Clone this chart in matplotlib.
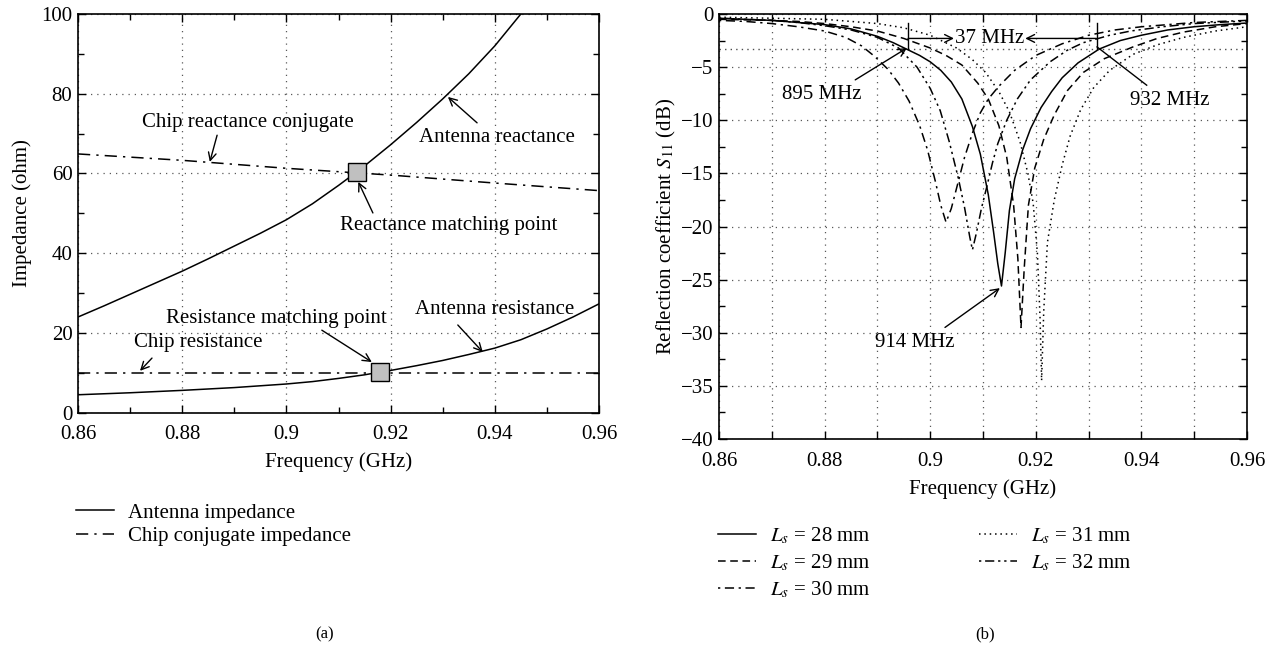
import matplotlib
matplotlib.use("Agg")
import matplotlib.pyplot as plt
from matplotlib.ticker import MultipleLocator, FuncFormatter
from matplotlib.lines import Line2D

plt.rcParams['font.family'] = ['Liberation Serif', 'DejaVu Serif']
plt.rcParams['mathtext.fontset'] = 'stix'
plt.rcParams['axes.linewidth'] = 1.2

# ---------------- data (a) ----------------
react_f = [0.86, 0.865, 0.87, 0.875, 0.88, 0.885, 0.89, 0.895, 0.90, 0.905, 0.91,
           0.9136, 0.915, 0.92, 0.925, 0.93, 0.935, 0.94, 0.945]
react_v = [24.0, 26.8, 29.7, 32.6, 35.5, 38.6, 41.8, 45.0, 48.4, 52.4, 57.0,
           60.5, 61.9, 67.2, 72.8, 78.7, 85.0, 92.0, 100.0]

res_f = [0.86, 0.87, 0.88, 0.89, 0.90, 0.905, 0.91, 0.915, 0.918, 0.92, 0.925, 0.93,
         0.935, 0.94, 0.945, 0.95, 0.955, 0.96]
res_v = [4.5, 5.0, 5.6, 6.3, 7.2, 7.8, 8.6, 9.5, 10.2, 10.6, 11.8, 13.1,
         14.6, 16.2, 18.3, 21.0, 24.0, 27.3]

chipx_f = [0.86, 0.88, 0.90, 0.92, 0.94, 0.96]
chipx_v = [64.9, 63.3, 61.3, 59.6, 57.6, 55.7]

chipr_f = [0.86, 0.96]
chipr_v = [10.0, 10.0]

match_f = [0.9136, 0.918]
match_v = [60.4, 10.2]

# ---------------- data (b) ----------------
s28_f = [0.86, 0.865, 0.87, 0.875, 0.88, 0.885, 0.89, 0.893, 0.8955, 0.898, 0.90, 0.902,
         0.904, 0.906, 0.908, 0.9095, 0.911, 0.912, 0.9128, 0.9135, 0.9142, 0.915, 0.916,
         0.9175, 0.919, 0.921, 0.923, 0.925, 0.928, 0.932, 0.936, 0.94, 0.945, 0.95,
         0.955, 0.96]
s28_v = [-0.4, -0.5, -0.6, -0.8, -1.0, -1.4, -2.1, -2.7, -3.3, -3.9, -4.5, -5.3,
         -6.4, -8.0, -10.6, -13.2, -17.0, -20.5, -23.5, -25.6, -22.5, -18.5, -15.5,
         -12.8, -10.8, -8.8, -7.3, -6.0, -4.6, -3.3, -2.5, -2.0, -1.5, -1.2,
         -1.0, -0.85]

s29_f = [0.86, 0.87, 0.875, 0.88, 0.885, 0.89, 0.895, 0.90, 0.903, 0.906, 0.909, 0.911,
         0.913, 0.9145, 0.9158, 0.9166, 0.9172, 0.9178, 0.9186, 0.9198, 0.9215, 0.9235,
         0.926, 0.929, 0.933, 0.9384, 0.943, 0.948, 0.954, 0.96]
s29_v = [-0.5, -0.6, -0.7, -0.9, -1.2, -1.6, -2.3, -3.2, -3.9, -4.8, -6.5, -8.0,
         -10.5, -13.5, -18.0, -23.0, -29.5, -24.0, -18.0, -14.5, -11.8, -9.5,
         -7.2, -5.5, -4.2, -3.1, -2.3, -1.7, -1.2, -0.9]

s30_f = [0.86, 0.865, 0.87, 0.875, 0.88, 0.884, 0.887, 0.8895, 0.892, 0.894, 0.896,
         0.898, 0.8995, 0.901, 0.902, 0.903, 0.904, 0.9052, 0.9065, 0.908, 0.9095,
         0.911, 0.913, 0.916, 0.92, 0.925, 0.93, 0.935, 0.94, 0.95, 0.96]
s30_v = [-0.6, -0.7, -0.9, -1.2, -1.6, -2.2, -3.0, -4.0, -5.2, -6.5, -8.2,
         -10.5, -12.8, -15.8, -18.0, -19.6, -18.3, -16.0, -13.5, -11.2, -9.3,
         -8.0, -6.8, -5.3, -3.9, -2.8, -2.0, -1.5, -1.2, -0.8, -0.6]

s31_f = [0.86, 0.87, 0.88, 0.885, 0.89, 0.895, 0.90, 0.905, 0.908, 0.9105, 0.913,
         0.915, 0.917, 0.9185, 0.9195, 0.9203, 0.9208, 0.9211, 0.9215, 0.9222, 0.9235,
         0.925, 0.9265, 0.9285, 0.931, 0.934, 0.9384, 0.943, 0.948, 0.954, 0.96]
s31_v = [-0.3, -0.4, -0.5, -0.7, -0.9, -1.3, -2.0, -3.2, -4.3, -5.5, -7.3,
         -9.2, -12.0, -15.0, -17.8, -22.5, -28.5, -34.5, -28.0, -21.5, -17.5,
         -14.2, -11.5, -9.0, -6.9, -5.3, -3.8, -2.9, -2.2, -1.6, -1.2]

s32_f = [0.86, 0.865, 0.87, 0.875, 0.88, 0.885, 0.89, 0.894, 0.8975, 0.900, 0.9019,
         0.9036, 0.9053, 0.9065, 0.9075, 0.908, 0.9088, 0.9097, 0.9107, 0.9118, 0.9128,
         0.9145, 0.9165, 0.919, 0.9227, 0.926, 0.929, 0.934, 0.938, 0.944, 0.95, 0.96]
s32_v = [-0.4, -0.5, -0.6, -0.8, -1.1, -1.5, -2.2, -3.2, -5.0, -7.0, -9.1,
         -12.0, -15.4, -18.2, -21.0, -22.2, -20.5, -18.3, -16.3, -14.0, -12.2,
         -10.0, -8.0, -6.2, -4.5, -3.4, -2.7, -2.0, -1.6, -1.2, -0.9, -0.65]

series_labels = [r'$L_s$ = 28 mm', r'$L_s$ = 29 mm', r'$L_s$ = 30 mm',
                 r'$L_s$ = 31 mm', r'$L_s$ = 32 mm']

# ---------------- figure ----------------
fig = plt.figure(figsize=(12.75, 6.53), dpi=100)
W, H = 1275, 653

def axrect(x0, x1, ytop, ybot):
    return [x0 / W, 1 - ybot / H, (x1 - x0) / W, (ybot - ytop) / H]

axa = fig.add_axes(axrect(78, 599, 14, 412.7))
axb = fig.add_axes(axrect(719, 1247, 14, 439))

FS = 15
gridkw = dict(color='0.35', linestyle=(0, (1, 4)), linewidth=0.9)
xfmt = FuncFormatter(lambda v, p: ('%g' % round(v, 3)))

def style_axes(ax):
    ax.tick_params(which='both', direction='in', top=True, right=True, labelsize=FS,
                   width=1.0, color='black')
    ax.tick_params(which='major', length=6)
    ax.tick_params(which='minor', length=4)
    ax.tick_params(axis='x', which='both', pad=9)
    ax.tick_params(axis='y', which='both', pad=4)
    ax.xaxis.set_major_formatter(xfmt)

# ----- panel (a) -----
lw = 1.1
dashdot = (0, (8, 4, 1.5, 4))
axa.plot(react_f, react_v, color='black', lw=lw)
axa.plot(res_f, res_v, color='black', lw=lw)
axa.plot(chipx_f, chipx_v, color='black', lw=lw, linestyle=dashdot)
axa.plot(chipr_f, chipr_v, color='black', lw=lw, linestyle=dashdot)
axa.plot(match_f, match_v, linestyle='none', marker='s', markersize=13,
         markerfacecolor='#c0c0c0', markeredgecolor='black', markeredgewidth=1.0, zorder=5)
axa.set_xlim(0.86, 0.96)
axa.set_ylim(0, 100)
axa.xaxis.set_major_locator(MultipleLocator(0.02))
axa.xaxis.set_minor_locator(MultipleLocator(0.01))
axa.yaxis.set_major_locator(MultipleLocator(20))
axa.yaxis.set_minor_locator(MultipleLocator(10))
axa.grid(True, which='major', **gridkw)
style_axes(axa)
axa.set_xlabel('Frequency (GHz)', fontsize=FS, labelpad=6)
axa.set_ylabel('Impedance (ohm)', fontsize=FS, labelpad=7)

arrow = dict(arrowstyle='->', color='black', lw=1.0, shrinkA=0, shrinkB=0,
             mutation_scale=14)
axa.text(0.9405, 68.9, 'Antenna reactance', fontsize=FS, ha='center', va='center')
axa.annotate('', xy=(0.931, 79.2), xytext=(0.9366, 72.7), arrowprops=arrow)
axa.text(0.8926, 72.9, 'Chip reactance conjugate', fontsize=FS, ha='center', va='center')
axa.annotate('', xy=(0.8853, 62.9), xytext=(0.8867, 69.6), arrowprops=arrow)
axa.text(0.9312, 47.0, 'Reactance matching point', fontsize=FS, ha='center', va='center')
axa.annotate('', xy=(0.9138, 57.9), xytext=(0.9166, 50.1), arrowprops=arrow)
axa.text(0.898, 23.7, 'Resistance matching point', fontsize=FS, ha='center', va='center')
axa.annotate('', xy=(0.9164, 12.7), xytext=(0.9068, 20.7), arrowprops=arrow)
axa.text(0.940, 26.0, 'Antenna resistance', fontsize=FS, ha='center', va='center')
axa.annotate('', xy=(0.9377, 15.2), xytext=(0.9329, 22.0), arrowprops=arrow)
axa.text(0.883, 17.5, 'Chip resistance', fontsize=FS, ha='center', va='center')
axa.annotate('', xy=(0.8719, 10.5), xytext=(0.8742, 13.7), arrowprops=arrow)

leg_a = [Line2D([], [], color='black', lw=lw),
         Line2D([], [], color='black', lw=lw, linestyle=dashdot)]
fig.legend(leg_a, ['Antenna impedance', 'Chip conjugate impedance'],
           loc='upper left', bbox_to_anchor=(76 / W, 1 - 503 / H), frameon=False,
           fontsize=FS, handlelength=1.8, handletextpad=0.7, labelspacing=0.2,
           borderaxespad=0, borderpad=0)

# ----- panel (b) -----
styles = ['-', (0, (5, 3)), (0, (1.5, 3, 6, 3)), (0, (1, 2.5)),
          (0, (1.5, 2.5, 6, 2.5, 1.5, 2.5))]
curves = [(s28_f, s28_v), (s29_f, s29_v), (s30_f, s30_v), (s31_f, s31_v), (s32_f, s32_v)]
handles = []
for (f, v), ls, lab in zip(curves, styles, series_labels):
    h, = axb.plot(f, v, color='black', lw=lw, linestyle=ls, label=lab)
    handles.append(h)
axb.axhline(-3.3, color='0.3', linestyle=(0, (1, 3)), lw=1.0)
axb.set_xlim(0.86, 0.96)
axb.set_ylim(-40, 0)
axb.xaxis.set_major_locator(MultipleLocator(0.02))
axb.xaxis.set_minor_locator(MultipleLocator(0.01))
axb.yaxis.set_major_locator(MultipleLocator(5))
axb.yaxis.set_minor_locator(MultipleLocator(2.5))
axb.grid(True, which='major', **gridkw)
axb.grid(True, which='minor', axis='x', **gridkw)
style_axes(axb)
axb.tick_params(which='minor', axis='x', length=6)
axb.set_xlabel('Frequency (GHz)', fontsize=FS, labelpad=6)
axb.set_ylabel(r'Reflection coefficient $S_{11}$ (dB)', fontsize=FS, labelpad=2)

# bandwidth markers
axb.plot([0.8958, 0.8958], [-0.85, -3.3], color='black', lw=1.0)
axb.plot([0.9315, 0.9315], [-0.85, -3.3], color='black', lw=1.0)
axb.annotate('', xy=(0.9045, -2.3), xytext=(0.8958, -2.3), arrowprops=arrow)
axb.annotate('', xy=(0.9180, -2.3), xytext=(0.9315, -2.3), arrowprops=arrow)
axb.text(0.9112, -2.3, '37 MHz', fontsize=FS, ha='center', va='center')
axb.annotate('', xy=(0.8956, -3.2), xytext=(0.8858, -6.2), arrowprops=arrow)
axb.text(0.8795, -7.6, '895 MHz', fontsize=FS, ha='center', va='center')
axb.plot([0.9316, 0.941], [-3.1, -6.7], color='black', lw=1.0)
axb.text(0.9454, -8.1, '932 MHz', fontsize=FS, ha='center', va='center')
axb.annotate('', xy=(0.9132, -25.8), xytext=(0.9028, -29.5), arrowprops=arrow)
axb.text(0.897, -30.9, '914 MHz', fontsize=FS, ha='center', va='center')

fig.legend(handles, series_labels, loc='upper left', ncol=2,
           bbox_to_anchor=(718 / W, 1 - 526 / H), frameon=False, fontsize=FS,
           handlelength=1.8, handletextpad=0.7, labelspacing=0.3, columnspacing=5.2,
           borderaxespad=0, borderpad=0)

fig.text(325 / W, 1 - 634 / H, '(a)', fontsize=12, ha='center', va='center')
fig.text(985 / W, 1 - 634 / H, '(b)', fontsize=12, ha='center', va='center')

fig.savefig('out.png', dpi=100)
